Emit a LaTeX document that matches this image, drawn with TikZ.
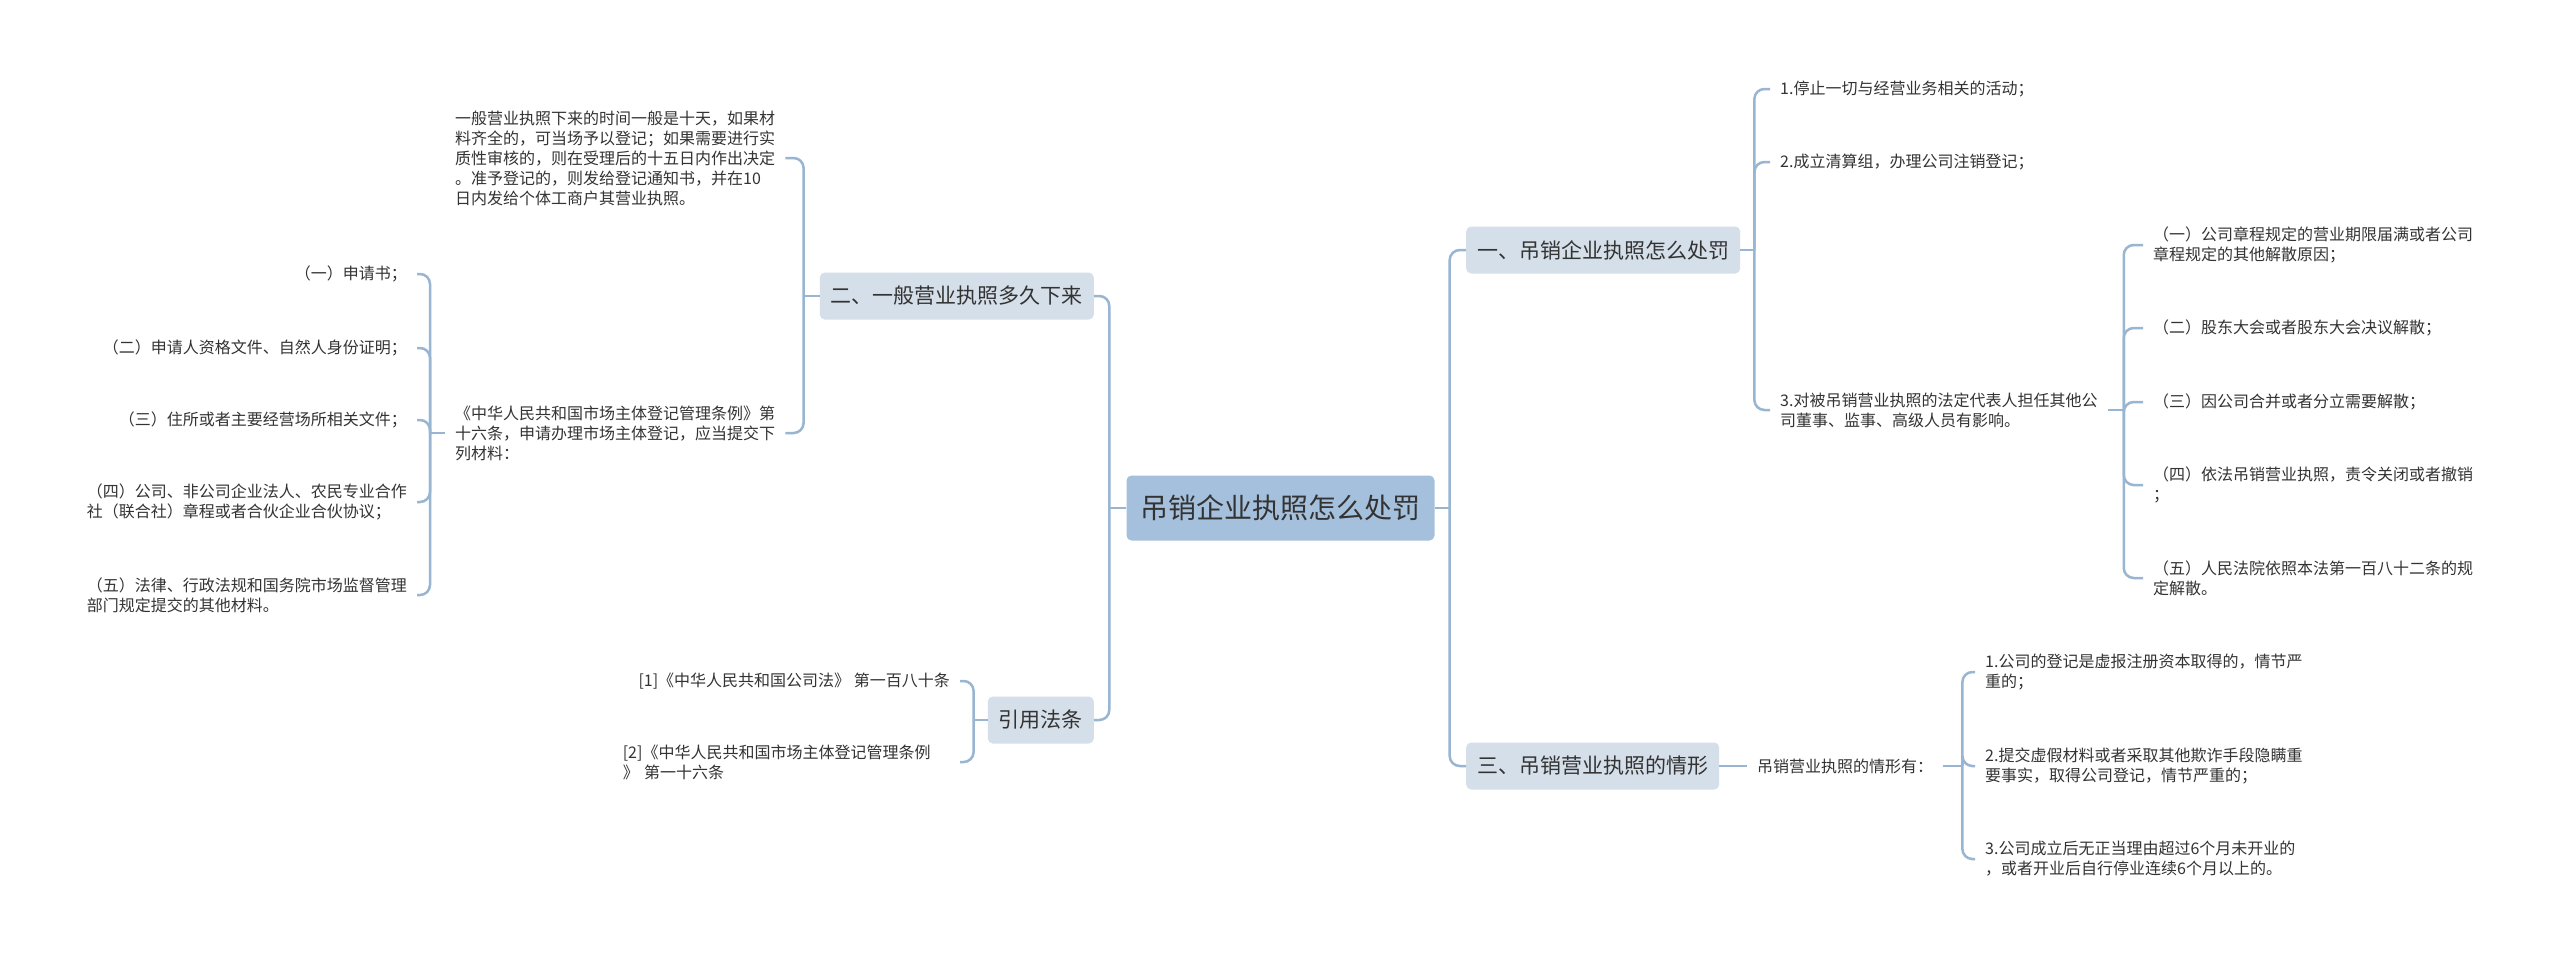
\documentclass[tikz,border=0pt]{standalone}
\usepackage{fontspec}
\setmainfont{Noto Sans CJK SC}
\definecolor{linecol}{RGB}{152,181,210}
\definecolor{rootcol}{RGB}{165,192,220}
\definecolor{topiccol}{RGB}{213,223,233}
\definecolor{textcol}{RGB}{51,51,51}

\begin{document}
\begin{tikzpicture}[x=1pt, y=-1pt,
                          rootnode/.style={rectangle, rounded corners=5pt, fill=rootcol, text=textcol, inner xsep=14pt, minimum height=65pt, font=\fontsize{28}{34}\selectfont},
                          topicnode/.style={rectangle, rounded corners=5pt, fill=topiccol, text=textcol, inner xsep=11pt, minimum height=47pt, font=\fontsize{21}{26}\selectfont},
                          textnode/.style={align=left, inner xsep=10pt, inner ysep=2pt, text=textcol, font=\fontsize{16}{20}\selectfont},
                          link_line/.style={draw=linecol, line width=2.5pt},
                          link_bend/.style={link_line, rounded corners=10pt},
                      ]
                      \useasboundingbox[fill=white] (0,0) rectangle (2560,959);
                      % Nodes
                      \node[rootnode]       (root)      at (1280.5,508)   {吊销企业执照怎么处罚};

                      \node[topicnode, anchor=west]   (topic_1)   at (1466,250)   {一、吊销企业执照怎么处罚};
                      \node[textnode, anchor=west]    (item_1_1)  at (1770,89)    {1.停止一切与经营业务相关的活动；};
                      \node[textnode, anchor=west]    (item_1_2)  at (1770,162)   {2.成立清算组，办理公司注销登记；};
                      \node[textnode, anchor=west]    (item_1_3)  at (1770,410)   {3.对被吊销营业执照的法定代表人担任其他公\\司董事、监事、高级人员有影响。};
                      \node[textnode, anchor=west]    (sub_1_3_1) at (2143,245)   {（一）公司章程规定的营业期限届满或者公司\\章程规定的其他解散原因；};
                      \node[textnode, anchor=west]    (sub_1_3_2) at (2143,328)   {（二）股东大会或者股东大会决议解散；};
                      \node[textnode, anchor=west]    (sub_1_3_3) at (2143,402)   {（三）因公司合并或者分立需要解散；};
                      \node[textnode, anchor=west]    (sub_1_3_4) at (2143,485)   {（四）依法吊销营业执照，责令关闭或者撤销\\；};
                      \node[textnode, anchor=west]    (sub_1_3_5) at (2143,578)   {（五）人民法院依照本法第一百八十二条的规\\定解散。};

                      \node[topicnode, anchor=west]   (topic_3)   at (1466,766)   {三、吊销营业执照的情形};
                      \node[textnode, anchor=west]    (item_3_1)  at (1747,766)   {吊销营业执照的情形有：};
                      \node[textnode, anchor=west]    (sub_3_1_1) at (1975,672)   {1.公司的登记是虚报注册资本取得的，情节严\\重的；};
                      \node[textnode, anchor=west]    (sub_3_1_2) at (1975,766)   {2.提交虚假材料或者采取其他欺诈手段隐瞒重\\要事实，取得公司登记，情节严重的；};
                      \node[textnode, anchor=west]    (sub_3_1_3) at (1975,859)   {3.公司成立后无正当理由超过6个月未开业的\\，或者开业后自行停业连续6个月以上的。};

                      \node[topicnode, anchor=east]   (topic_2)   at (1094,296)   {二、一般营业执照多久下来};
                      \node[textnode, anchor=west]    (item_2_1)  at (445,158)    {一般营业执照下来的时间一般是十天，如果材\\料齐全的，可当场予以登记；如果需要进行实\\质性审核的，则在受理后的十五日内作出决定\\。准予登记的，则发给登记通知书，并在10\\日内发给个体工商户其营业执照。};
                      \node[textnode, anchor=west]    (item_2_2)  at (445,433)    {《中华人民共和国市场主体登记管理条例》第\\十六条，申请办理市场主体登记，应当提交下\\列材料：};
                      \node[textnode, anchor=east]    (sub_2_2_1) at (417,274)    {（一）申请书；};
                      \node[textnode, anchor=east]    (sub_2_2_2) at (417,348)    {（二）申请人资格文件、自然人身份证明；};
                      \node[textnode, anchor=east]    (sub_2_2_3) at (417,420)    {（三）住所或者主要经营场所相关文件；};
                      \node[textnode, anchor=east]    (sub_2_2_4) at (417,502)    {（四）公司、非公司企业法人、农民专业合作\\社（联合社）章程或者合伙企业合伙协议；};
                      \node[textnode, anchor=east]    (sub_2_2_5) at (417,595)    {（五）法律、行政法规和国务院市场监督管理\\部门规定提交的其他材料。};

                      \node[topicnode, anchor=east]   (topic_4)   at (1094,720)   {引用法条};
                      \node[textnode, anchor=east]    (item_4_1)  at (960,681)    {[1]《中华人民共和国公司法》 第一百八十条};
                      \node[textnode, anchor=east, text width=327pt] (item_4_2) at (960,762) {[2]《中华人民共和国市场主体登记管理条例\\》 第一十六条};

                      %Lines
                      \draw[link_line] (root.east) -- ++(15,0) coordinate (root_r);
                      \draw[link_bend] (root_r) |- (topic_1.west);
                      \draw[link_bend] (root_r) |- (topic_3.west);
                      \draw[link_line] (root.west) -- ++(-17,0) coordinate (root_l);
                      \draw[link_bend] (root_l) |- (topic_2.east);
                      \draw[link_bend] (root_l) |- (topic_4.east);

                      \draw[link_line] (topic_1.east) -- ++(14,0) coordinate (topic_1_r);
                      \foreach \i in {1,2,3}
                          \draw[link_bend] (topic_1_r) |- (item_1_\i.west);
                      \draw[link_line] (item_1_3.east) -- ++(16,0) coordinate (item_1_3_r);
                      \foreach \i in {1,...,5}
                          \draw[link_bend] (item_1_3_r) |- (sub_1_3_\i.west);

                      \draw[link_line] (topic_3.east) -- (item_3_1.west);
                      \draw[link_line] (item_3_1.east) -- ++(19,0) coordinate (item_3_1_r);
                      \foreach \i in {1,2,3}
                          \draw[link_bend] (item_3_1_r) |- (sub_3_1_\i.west);

                      \draw[link_line] (topic_2.west) -- ++(-16,0) coordinate (topic_2_l);
                      \foreach \i in {1,2}
                          \draw[link_bend] (topic_2_l) |- (item_2_\i.east);
                      \draw[link_line] (item_2_2.west) -- ++(-15,0) coordinate (item_2_2_l);
                      \foreach \i in {1,...,5}
                          \draw[link_bend] (item_2_2_l) |- (sub_2_2_\i.east);

                      \draw[link_line] (topic_4.west) -- ++(-14,0) coordinate (topic_4_l);
                      \foreach \i in {1,2}
                          \draw[link_bend] (topic_4_l) |- (item_4_\i.east);
                  \end{tikzpicture}
\end{document}
